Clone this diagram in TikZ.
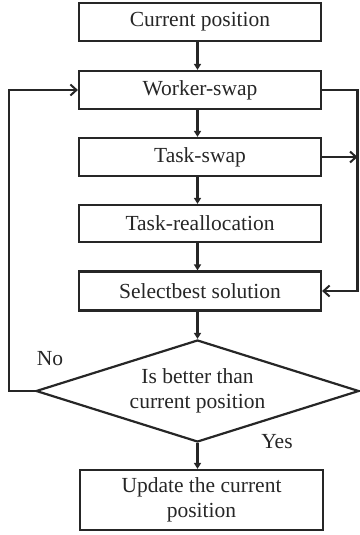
\documentclass[tikz,border=0pt]{standalone}
\usepackage{fontspec}
\setmainfont{Liberation Serif}
\usetikzlibrary{shapes.geometric,arrows.meta}
\begin{document}
\begin{tikzpicture}[x=1pt,y=-1pt,
  every node/.style={font=\fontsize{21.5}{25}\selectfont, text=black!85},
  box/.style={draw=black!85, line width=2.2pt, minimum width=242pt, minimum height=38pt, inner sep=0pt, align=center},
  dec/.style={draw=black!85, line width=2.2pt, shape=diamond, aspect=3.167, minimum width=323pt, minimum height=102pt, inner sep=0pt, align=center},
  link/.style={draw=black!85, line width=2.2pt, -{Triangle[length=6pt,width=7pt]}},
  side/.style={draw=black!85, line width=2.2pt, -{Straight Barb[length=6pt,width=11pt,line width=2pt]}}]
\useasboundingbox (0,0) rectangle (359,535);
\node[box] (cur) at (200,22) {Current position};
\node[box] (ws) at (200,90) {Worker-swap};
\node[box] (ts) at (200,157) {Task-swap};
\node[box, minimum height=37pt] (tr) at (200,223.5) {Task-reallocation};
\node[box, minimum height=39pt] (sb) at (200,291) {Selectbest solution};
\node[dec] (dm) at (197.5,391) {Is better than\\current position};
\node[box, minimum width=243pt, minimum height=60pt] (up) at (201.5,500) {Update the current\\position};
\coordinate (lx) at (9,0);
\coordinate (rx) at (357.5,0);
\draw[link] (cur.south -| dm.north) -- (ws.north -| dm.north);
\draw[link] (ws.south -| dm.north) -- (ts.north -| dm.north);
\draw[link] (ts.south -| dm.north) -- (tr.north -| dm.north);
\draw[link] (tr.south -| dm.north) -- (sb.north -| dm.north);
\draw[link] (sb.south -| dm.north) -- (dm.north);
\draw[link] (dm.south) -- (dm.south |- up.north);
\draw[side] (dm.west) -- (dm.west -| lx) |- (ws.west);
\draw[side] (ws.east) -- (ws.east -| rx) |- (sb.east);
\draw[side] (ts.east) -- (ts.east -| rx);
\node (no) at (50,359) {No};
\node (yes) at (277,442) {Yes};
\end{tikzpicture}
\end{document}
